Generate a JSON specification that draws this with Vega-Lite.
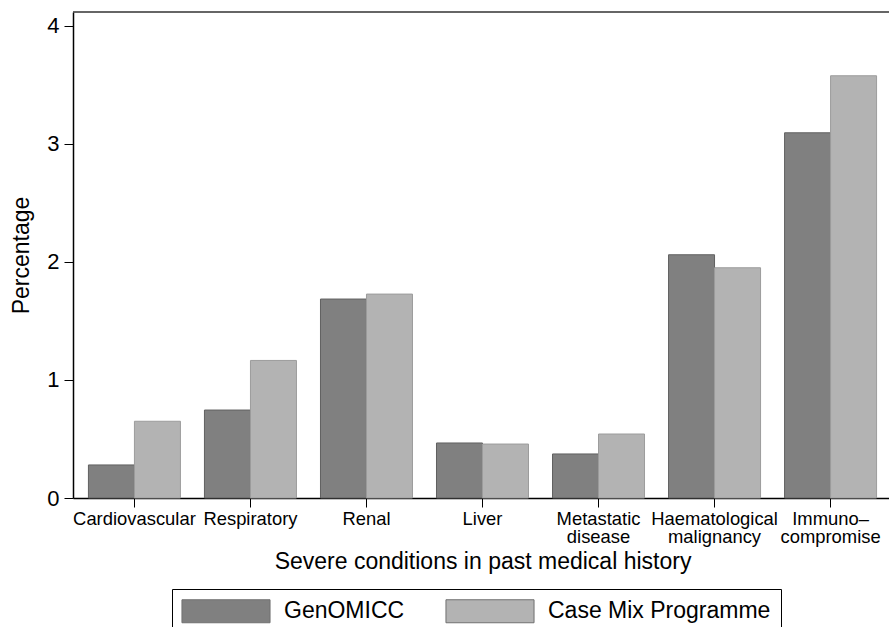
{
  "$schema": "https://vega.github.io/schema/vega-lite/v6.json",
  "autosize": {"type": "none"},
  "padding": {"left": 73, "top": 12, "right": 0, "bottom": 129},
  "width": 816,
  "height": 486,
  "background": "white",
  "config": {
    "view": {"stroke": null},
    "font": "Liberation Sans",
    "legend": {
      "strokeColor": "black",
      "strokeWidth": 1,
      "fillColor": "white",
      "padding": 10,
      "symbolType": "M-3.83,-1L3.83,-1L3.83,1L-3.83,1Z",
      "symbolSize": 529,
      "symbolOffset": 32,
      "labelOffset": 46,
      "labelFontSize": 23,
      "labelColor": "black",
      "labelFont": "Liberation Sans",
      "columnPadding": 38,
      "symbolStrokeWidth": 1,
      "symbolStrokeColor": "#707070",
      "symbolOpacity": 1,
      "labelLimit": 400
    }
  },
  "data": {
    "values": [
      {"condition": "Cardiovascular", "source": "GenOMICC", "pct": 0.28},
      {"condition": "Cardiovascular", "source": "Case Mix Programme", "pct": 0.65},
      {"condition": "Respiratory", "source": "GenOMICC", "pct": 0.745},
      {"condition": "Respiratory", "source": "Case Mix Programme", "pct": 1.165},
      {"condition": "Renal", "source": "GenOMICC", "pct": 1.685},
      {"condition": "Renal", "source": "Case Mix Programme", "pct": 1.727},
      {"condition": "Liver", "source": "GenOMICC", "pct": 0.466},
      {"condition": "Liver", "source": "Case Mix Programme", "pct": 0.457},
      {"condition": "Metastatic disease", "source": "GenOMICC", "pct": 0.373},
      {"condition": "Metastatic disease", "source": "Case Mix Programme", "pct": 0.542},
      {"condition": "Haematological malignancy", "source": "GenOMICC", "pct": 2.06},
      {"condition": "Haematological malignancy", "source": "Case Mix Programme", "pct": 1.95},
      {"condition": "Immunocompromise", "source": "GenOMICC", "pct": 3.093},
      {"condition": "Immunocompromise", "source": "Case Mix Programme", "pct": 3.576}
    ]
  },
  "layer": [
    {
      "mark": {"type": "bar", "strokeWidth": 1},
      "encoding": {
        "x": {
          "field": "condition",
          "type": "nominal",
          "sort": ["Cardiovascular", "Respiratory", "Renal", "Liver", "Metastatic disease", "Haematological malignancy", "Immunocompromise"],
          "scale": {"range": [0, 819], "paddingInner": 0.207, "paddingOuter": 0.133},
          "title": "Severe conditions in past medical history",
          "axis": {
            "labelAngle": 0,
            "labelExpr": "datum.value == 'Immunocompromise' ? ['Immuno\u2013', 'compromise'] : split(datum.value, ' ')",
            "labelFontSize": 18.4,
            "labelColor": "black",
            "labelPadding": 2,
            "labelLineHeight": 18,
            "labelBaseline": "top",
            "labelLimit": 300,
            "labelOverlap": false,
            "tickSize": 9,
            "tickColor": "black",
            "tickWidth": 1,
            "domainColor": "black",
            "domainWidth": 1.5,
            "titleFontSize": 23,
            "titleFontWeight": "normal",
            "titleColor": "black",
            "titlePadding": 5
          }
        },
        "xOffset": {
          "field": "source",
          "type": "nominal",
          "sort": ["GenOMICC", "Case Mix Programme"],
          "scale": {"paddingInner": 0, "paddingOuter": 0}
        },
        "y": {
          "field": "pct",
          "type": "quantitative",
          "scale": {"domain": [0, 4.116], "nice": false, "zero": true},
          "title": "Percentage",
          "axis": {
            "values": [0, 1, 2, 3, 4],
            "format": "d",
            "grid": false,
            "labelFontSize": 22,
            "labelColor": "black",
            "labelPadding": 5,
            "tickSize": 9,
            "tickColor": "black",
            "tickWidth": 1,
            "domainColor": "black",
            "domainWidth": 1.5,
            "titleFontSize": 23,
            "titleFontWeight": "normal",
            "titleColor": "black",
            "titlePadding": 13
          }
        },
        "color": {
          "field": "source",
          "type": "nominal",
          "sort": ["GenOMICC", "Case Mix Programme"],
          "scale": {"range": ["#808080", "#b3b3b3"]},
          "legend": {"orient": "none", "legendX": 99, "legendY": 577, "direction": "horizontal", "title": null}
        },
        "stroke": {
          "condition": {"test": "datum.source == 'GenOMICC'", "value": "#606060"},
          "value": "#9c9c9c"
        }
      }
    },
    {
      "data": {"values": [{}]},
      "mark": {"type": "rule", "color": "#333333", "strokeWidth": 1.5},
      "encoding": {"y": {"datum": 4.116}}
    }
  ]
}
